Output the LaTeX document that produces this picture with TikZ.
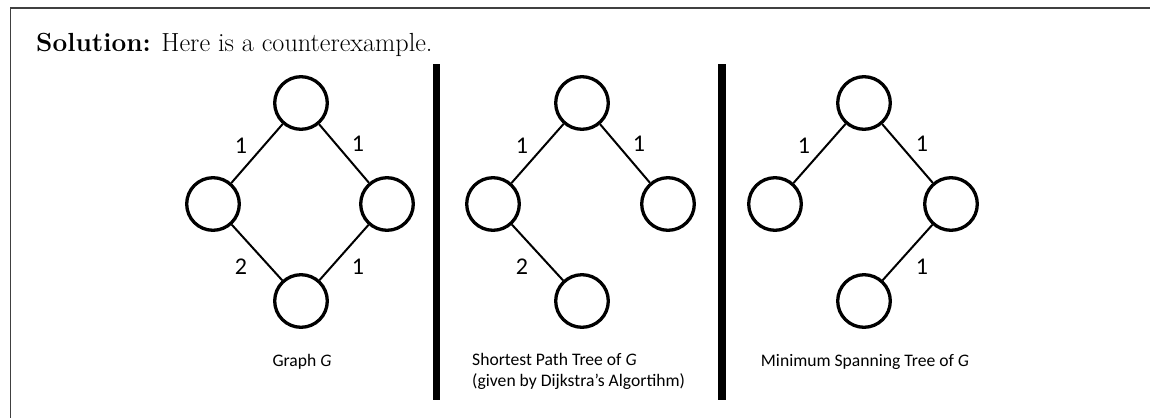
\documentclass[tikz,border=0pt]{standalone}
\usepackage{fontspec}
\newfontfamily\capfont{Carlito}
\begin{document}
\begin{tikzpicture}[x=1pt,y=-1pt,
  vtx/.style={circle,draw,line width=3.3pt,minimum size=52.6pt,inner sep=0pt},
  edge/.style={line width=2pt},
  wlab/.style={font=\capfont\fontsize{24}{28}\selectfont,inner sep=0pt},
  caption/.style={font=\capfont\fontsize{17.6}{21}\selectfont,inner sep=0pt},
  bar/.style={line width=7.5pt}]
\useasboundingbox (0,0) rectangle (1150,418);
% frame
\draw[line width=1.2pt,black!75] (1150,8) -- (10.5,8) -- (10.5,418);
\node[anchor=base west,inner sep=0pt,font=\fontsize{26.2}{30}\selectfont] (title) at (36,51)
  {\textbf{Solution:} Here is a counterexample.};
% separators
\coordinate (b1t) at (436.5,64); \coordinate (b1b) at (436.5,400);
\coordinate (b2t) at (722,64); \coordinate (b2b) at (722,400);
\draw[bar] (b1t) -- (b1b);
\draw[bar] (b2t) -- (b2b);
% Graph G
\node[vtx] (g1) at (301,103) {};
\node[vtx] (g2) at (213,204) {};
\node[vtx] (g3) at (387,204) {};
\node[vtx] (g4) at (301,301) {};
\draw[edge] (g1) -- (g2);
\draw[edge] (g1) -- (g3);
\draw[edge] (g2) -- (g4);
\draw[edge] (g3) -- (g4);
\node[wlab] (l1) at (241,146) {1};
\node[wlab] (l2) at (358,144) {1};
\node[wlab] (l3) at (241,267) {2};
\node[wlab] (l4) at (358,267) {1};
\node[caption] (c1) at (302,362) {Graph \textit{G}};
% Shortest path tree
\node[vtx] (s1) at (582,103) {};
\node[vtx] (s2) at (493,204) {};
\node[vtx] (s3) at (668,204) {};
\node[vtx] (s4) at (582,301) {};
\draw[edge] (s1) -- (s2);
\draw[edge] (s1) -- (s3);
\draw[edge] (s2) -- (s4);
\node[wlab] (m1) at (522,146) {1};
\node[wlab] (m2) at (639,144) {1};
\node[wlab] (m3) at (522,267) {2};
\node[caption,align=left,anchor=north west] (c2) at (472,353) {Shortest Path Tree of \textit{G}\\(given by Dijkstra’s Algortihm)};
% Minimum spanning tree
\node[vtx] (t1) at (864,103) {};
\node[vtx] (t2) at (775,204) {};
\node[vtx] (t3) at (951,204) {};
\node[vtx] (t4) at (864,301) {};
\draw[edge] (t1) -- (t2);
\draw[edge] (t1) -- (t3);
\draw[edge] (t3) -- (t4);
\node[wlab] (n1) at (804,146) {1};
\node[wlab] (n2) at (922,144) {1};
\node[wlab] (n3) at (922,267) {1};
\node[caption] (c3) at (865,362) {Minimum Spanning Tree of \textit{G}};
\end{tikzpicture}
\end{document}
